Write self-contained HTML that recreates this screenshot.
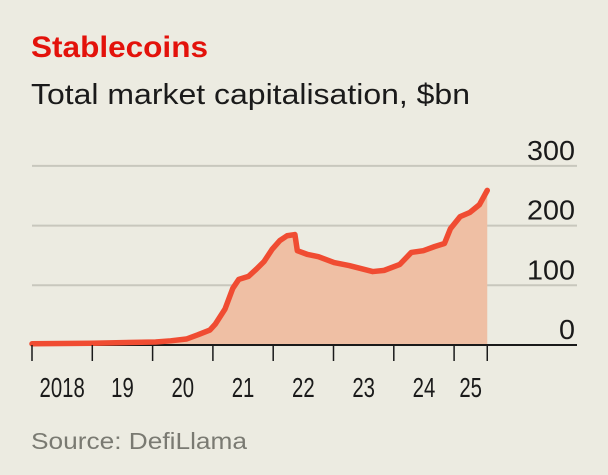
<!DOCTYPE html>
<html><head><meta charset="utf-8"><style>
body{margin:0;background:#ecebe1;}
#wrap{position:relative;width:608px;height:475px;background:#ecebe1;font-family:"Liberation Sans",sans-serif;overflow:hidden}
</style></head><body>
<div id="wrap">
<svg id="chart" width="608" height="475" style="position:absolute;left:0;top:0" font-family="Liberation Sans, sans-serif">
<text x="31" y="57" font-size="30" font-weight="bold" fill="#e3120b" textLength="177" lengthAdjust="spacingAndGlyphs">Stablecoins</text>
<text x="31" y="104" font-size="29" fill="#1a1a1a" textLength="439" lengthAdjust="spacingAndGlyphs">Total market capitalisation, $bn</text>
<text x="31" y="449" font-size="23" fill="#7a7a72" textLength="216" lengthAdjust="spacingAndGlyphs">Source: DefiLlama</text>
</svg>
</div>
<script>
const years=[2018,2019,2020,2021,2022,2023,2024,2025];
const yearLabels=["2018","19","20","21","22","23","24","25"];
const yTicks=[0,100,200,300];
const dates=[2018.00,2019.0,2020.05,2020.30,2020.56,2020.75,2020.95,2021.04,2021.20,2021.33,2021.43,2021.59,2021.72,2021.85,2021.98,2022.11,2022.23,2022.36,2022.40,2022.56,2022.75,2023.01,2023.26,2023.65,2023.84,2024.10,2024.29,2024.49,2024.68,2024.84,2024.94,2025.10,2025.26,2025.42,2025.55];
const values=[2,3,5,7,10,17,25,35,60,95,110,115,127,140,160,175,183,185,158,152,148,138,133,123,125,135,155,158,165,170,195,215,222,235,259];
const NS="http://www.w3.org/2000/svg";
const svg=document.getElementById('chart');
const x0=32,x1=577,base=345;
const xs=y=>32+(y-2018)*60.3;
const ys=v=>base-v*0.597;
function mk(t,a){const e=document.createElementNS(NS,t);for(const k in a)e.setAttribute(k,a[k]);svg.appendChild(e);return e;}
yTicks.forEach(v=>{
 if(v>0){const g=mk('line',{x1:x0,x2:x1,y1:ys(v),y2:ys(v),stroke:'#c8c7bd','stroke-width':2});
 
 }
 const s=String(v);
 const t=mk('text',{x:575,y:ys(v)-6,'text-anchor':'end','font-size':28,fill:'#1a1a1a',textLength:s.length*16,lengthAdjust:'spacingAndGlyphs'});
 t.textContent=s;
 
 
});
let d='M'+xs(dates[0])+','+ys(values[0]);
for(let i=1;i<dates.length;i++)d+=' L'+xs(dates[i])+','+ys(values[i]);
const area=mk('path',{d:d+' L'+xs(dates[dates.length-1])+','+base+' L'+xs(dates[0])+','+base+' Z',fill:'#efbfa4'});


const ax=mk('line',{x1:x0,x2:x1,y1:base,y2:base,stroke:'#1a1a1a','stroke-width':2});


const ln=mk('path',{d:d,fill:'none',stroke:'#f04c32','stroke-width':5.5,'stroke-linejoin':'round','stroke-linecap':'round'});


const ticks=years.concat([2025.55]);
ticks.forEach(y=>{const t=mk('line',{x1:xs(y),x2:xs(y),y1:base,y2:base+16,stroke:'#1a1a1a','stroke-width':1.5});
 
 });
years.forEach((y,i)=>{
 const next=i<years.length-1?years[i+1]:2025.55;
 const lab=yearLabels[i];
 const t=mk('text',{x:(xs(y)+xs(next))/2,y:397,'text-anchor':'middle','font-size':28,fill:'#1a1a1a',textLength:lab.length*11.3,lengthAdjust:'spacingAndGlyphs'});
 t.textContent=lab;
 
 
});
</script>
</body></html>
